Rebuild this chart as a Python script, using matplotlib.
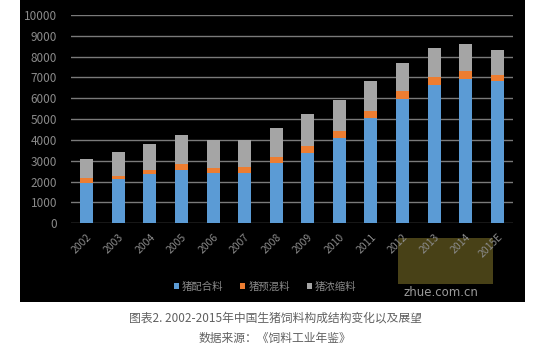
import matplotlib
matplotlib.use("Agg")
import matplotlib.pyplot as plt
from matplotlib.patches import Rectangle
import numpy as np

plt.rcParams['font.family'] = ['Noto Sans CJK SC', 'DejaVu Sans']

years = ["2002", "2003", "2004", "2005", "2006", "2007", "2008",
         "2009", "2010", "2011", "2012", "2013", "2014", "2015E"]
compound = [1950, 2130, 2350, 2560, 2430, 2430, 2910,
            3360, 4110, 5040, 5980, 6640, 6910, 6840]
premix = [210, 155, 210, 270, 240, 290, 290,
          365, 335, 350, 385, 370, 400, 295]
concentrate = [940, 1135, 1230, 1420, 1330, 1280, 1375,
               1505, 1490, 1440, 1345, 1390, 1300, 1200]
series_names = ["猪配合料", "猪预混料", "猪浓缩料"]
colors = ["#5B9BD5", "#ED7D31", "#A5A5A5"]
yticks = list(range(0, 10001, 1000))
caption1 = "图表2. 2002-2015年中国生猪饲料构成结构变化以及展望"
caption2 = "数据来源：《饲料工业年鉴》"

W, H = 551, 348
fig = plt.figure(figsize=(W / 100, H / 100), dpi=100)
fig.patch.set_facecolor("white")

# dark chart panel
fig.add_artist(Rectangle((20 / W, 1 - 302 / H), 505 / W, 302 / H,
                         transform=fig.transFigure, facecolor="black",
                         edgecolor="none", zorder=-3))
# site mark in the corner, drawn beneath the tick labels
fig.add_artist(Rectangle((398 / W, 1 - 284 / H), 95 / W, 46 / H,
                         transform=fig.transFigure, facecolor="#b5a33a",
                         edgecolor="none", alpha=0.4, zorder=-2))

ax = fig.add_axes([71 / W, 1 - 223.3 / H, 442 / W, 208.3 / H])
ax.set_facecolor("black")
x = np.arange(len(years))
bw = 0.41
b1 = ax.bar(x, compound, bw, color=colors[0], zorder=3, label=series_names[0])
b2 = ax.bar(x, premix, bw, bottom=compound, color=colors[1], zorder=3,
            label=series_names[1])
bottom2 = np.array(compound) + np.array(premix)
b3 = ax.bar(x, concentrate, bw, bottom=bottom2, color=colors[2], zorder=3,
            label=series_names[2])

ax.set_xlim(-0.5, len(years) - 0.5)
ax.set_ylim(0, 10000)
ax.set_yticks(yticks)
ax.yaxis.grid(True, color="#7a7a7a", linewidth=1.0, zorder=1)
ax.set_axisbelow(True)
for s in ax.spines.values():
    s.set_visible(False)
ax.tick_params(axis="both", length=0, colors="#8a8a8a", labelsize=8.5)
ax.tick_params(axis="y", pad=10)
ax.set_xticks(x)
ax.set_xticklabels(years, rotation=45, ha="right", rotation_mode="anchor",
                   fontsize=7.5, color="#8a8a8a")
ax.tick_params(axis="x", pad=6)

leg = fig.legend(handles=[b1, b2, b3], labels=series_names, loc="center",
                 bbox_to_anchor=(265 / W, 1 - 287 / H), ncol=3, frameon=False,
                 fontsize=7.5, handlelength=0.5, handleheight=0.5,
                 handletextpad=0.3, columnspacing=1.6)
for t in leg.get_texts():
    t.set_color("#8a8a8a")

fig.text(441 / W, 1 - 292 / H, "zhue.com.cn", color="#9a9a9a", fontsize=8.5,
         ha="center", va="center", family="DejaVu Sans")

fig.text(275 / W, 1 - 318 / H, caption1, ha="center", va="center",
         fontsize=8.5, color="#606060")
fig.text(275 / W, 1 - 338 / H, caption2, ha="center", va="center",
         fontsize=8.5, color="#606060")

fig.savefig("out.png", dpi=100, facecolor="white")
